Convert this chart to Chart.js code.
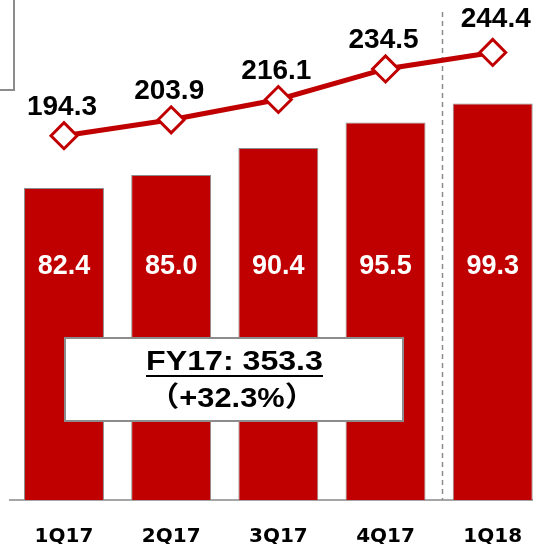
<!DOCTYPE html>
<html>
<head>
<meta charset="utf-8">
<script src="https://cdn.jsdelivr.net/npm/chart.js@4/dist/chart.umd.min.js"></script>
<style>
  html, body { margin: 0; padding: 0; background: #fff; overflow: hidden; }
  #wrap { width: 533px; height: 544px; overflow: hidden; position: relative; }
  #myChart { position: absolute; left: 0; top: 0; }
</style>
</head>
<body>
<div id="wrap"><canvas id="myChart" width="560" height="544"></canvas></div>
<script>
// chart data
var quarters = ['1Q17', '2Q17', '3Q17', '4Q17', '1Q18'];
var barValues = [82.4, 85.0, 90.4, 95.5, 99.3];
var lineValues = [194.3, 203.9, 216.1, 234.5, 244.4];
var fyTitle = 'FY17: 353.3';
var fyGrowth = '\uFF08+32.3%\uFF09';

var red = '#C00000';

// labels, dashed divider and the text boxes
var decorations = {
  id: 'decorations',
  beforeDatasetsDraw: function(chart) {
    var ctx = chart.ctx;
    var x = chart.scales.x;
    var px = Math.round(x.getPixelForValue(3.53)) + 0.5;
    ctx.save();
    ctx.strokeStyle = '#8C8C8C';
    ctx.lineWidth = 1.5;
    ctx.setLineDash([5, 4]);
    ctx.beginPath();
    ctx.moveTo(px, 12);
    ctx.lineTo(px, chart.chartArea.bottom);
    ctx.stroke();
    ctx.restore();
  },
  afterDatasetsDraw: function(chart) {
    var ctx = chart.ctx;
    var bars = chart.getDatasetMeta(1).data;
    var points = chart.getDatasetMeta(0).data;
    ctx.save();

    // values inside the bars
    ctx.fillStyle = '#fff';
    ctx.font = 'bold 27px "Liberation Sans", Arial, sans-serif';
    ctx.textAlign = 'center';
    ctx.textBaseline = 'middle';
    bars.forEach(function(b, i) {
      ctx.fillText(barValues[i].toFixed(1), b.x, 267);
    });

    // values above the line
    ctx.fillStyle = '#000';
    ctx.font = 'bold 28px "Liberation Sans", Arial, sans-serif';
    ctx.textBaseline = 'alphabetic';
    points.forEach(function(p, i) {
      var last = i === points.length - 1;
      ctx.fillText(lineValues[i].toFixed(1), p.x + (last ? 3 : -2), p.y - (last ? 25 : 21));
    });

    // FY17 box
    ctx.fillStyle = '#fff';
    ctx.fillRect(65, 338, 338, 83);
    ctx.strokeStyle = '#8C8C8C';
    ctx.lineWidth = 2;
    ctx.strokeRect(65, 338, 338, 83);

    ctx.fillStyle = '#000';
    ctx.font = 'bold 27px "Liberation Sans", Arial, sans-serif';
    ctx.save();
    ctx.translate(234.5, 370);
    ctx.scale(1.19, 1);
    ctx.fillText(fyTitle, 0, 0);
    ctx.restore();
    ctx.fillRect(146, 375, 177, 2);

    ctx.font = 'bold 28px "Liberation Sans", "Noto Sans CJK JP", sans-serif';
    ctx.textBaseline = 'middle';
    ctx.save();
    ctx.translate(232, 399);
    ctx.scale(1.1, 1);
    ctx.fillText(fyGrowth, 0, 0);
    ctx.restore();

    ctx.restore();
  },
  afterDraw: function(chart) {
    // edge of a box cut off at the top left
    var ctx = chart.ctx;
    ctx.save();
    ctx.fillStyle = '#fff';
    ctx.fillRect(-10, -10, 24, 100);
    ctx.strokeStyle = '#8C8C8C';
    ctx.lineWidth = 2;
    ctx.strokeRect(-10, -10, 24, 100);
    ctx.restore();
  }
};

var data = {
  labels: quarters,
  datasets: [{
    type: 'line',
    data: lineValues,
    yAxisID: 'y2',
    order: 0,
    borderColor: red,
    borderWidth: 5,
    pointStyle: 'rectRot',
    pointRadius: 13,
    pointHoverRadius: 13,
    pointBorderWidth: 3,
    pointBackgroundColor: '#fff',
    pointBorderColor: red,
    tension: 0,
    clip: false
  }, {
    type: 'bar',
    data: barValues,
    yAxisID: 'y',
    order: 1,
    backgroundColor: red,
    borderColor: '#8C8C8C',
    borderWidth: 1,
    categoryPercentage: 1,
    barPercentage: 0.746
  }]
};

var config = {
  data: data,
  options: {
    responsive: false,
    animation: false,
    layout: { autoPadding: false, padding: { left: 10.4, right: 13.7, top: 0, bottom: 0 } },
    plugins: { legend: { display: false }, tooltip: { enabled: false } },
    scales: {
      x: {
        grid: { display: false, drawTicks: false },
        border: { display: true, color: '#A6A6A6', width: 2 },
        ticks: {
          color: '#000',
          padding: 25,
          font: { family: 'DejaVu Sans', weight: 'bold', size: 20 }
        },
        afterFit: function(s) { s.height = 44; }
      },
      y: { display: false, min: 20, max: 120 },
      y2: { display: false, min: -25, max: 276 }
    }
  },
  plugins: [decorations]
};

var ctx = document.getElementById('myChart').getContext('2d');
var myChart = new Chart(ctx, config);
</script>
</body>
</html>
